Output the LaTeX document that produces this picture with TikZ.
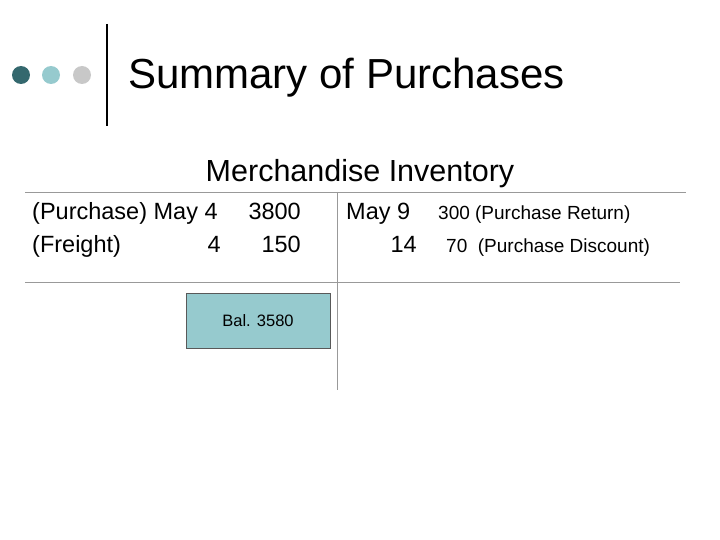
\documentclass[tikz,border=0pt]{standalone}
\usepackage{fontspec}
\setmainfont{Liberation Sans}
\begin{document}
\begin{tikzpicture}[x=1pt,y=-1pt,
  txt/.style={inner sep=0pt,anchor=base west,font=\fontsize{23.5}{28}\selectfont},
  sm/.style={inner sep=0pt,anchor=base west,font=\fontsize{19}{22}\selectfont},
  rule/.style={draw=gray!80,line width=0.7pt}]
\useasboundingbox (0,0) rectangle (720,540);
\fill[fill={rgb,255:red,52;green,104;blue,110}] (21,75) circle (9);
\fill[fill={rgb,255:red,150;green,202;blue,206}] (51,75) circle (9);
\fill[fill={rgb,255:red,200;green,200;blue,200}] (82,75) circle (9);
\draw[line width=2.5pt] (107,24) -- (107,126);
\node[inner sep=0pt,anchor=base west,font=\fontsize{42}{48}\selectfont] (title) at (128,89) {Summary of Purchases};
\node[inner sep=0pt,anchor=base,font=\fontsize{30.5}{36}\selectfont] (head) at (360,182) {Merchandise Inventory};
\coordinate (l1) at (25,192); \coordinate (r1) at (686,192);
\coordinate (l2) at (25,282); \coordinate (r2) at (680,282);
\coordinate (vt) at (337,192); \coordinate (vb) at (337,390);
\draw[rule] (l1) -- (r1);
\draw[rule] (l2) -- (r2);
\draw[rule] (vt) -- (vb);
\node[txt] (a1) at (32,219) {(Purchase) May 4};
\node[txt,anchor=base east] (a2) at (301,219) {3800};
\node[txt] (b1) at (32,252) {(Freight)};
\node[txt,anchor=base east] (b2) at (221,252) {4};
\node[txt,anchor=base east] (b3) at (301,252) {150};
\node[txt] (c1) at (346,219) {May 9};
\node[sm] (c2) at (438,219) {300 (Purchase Return)};
\node[txt,anchor=base east] (d1) at (417,252) {14};
\node[sm] (d2) at (446,252) {70\ \ (Purchase Discount)};
\node[draw=gray!70!black,fill={rgb,255:red,150;green,202;blue,206},minimum width=144pt,minimum height=55pt,inner sep=0pt,font=\fontsize{16.5}{20}\selectfont] (bal) at (258,321) {Bal. 3580};
\end{tikzpicture}
\end{document}
